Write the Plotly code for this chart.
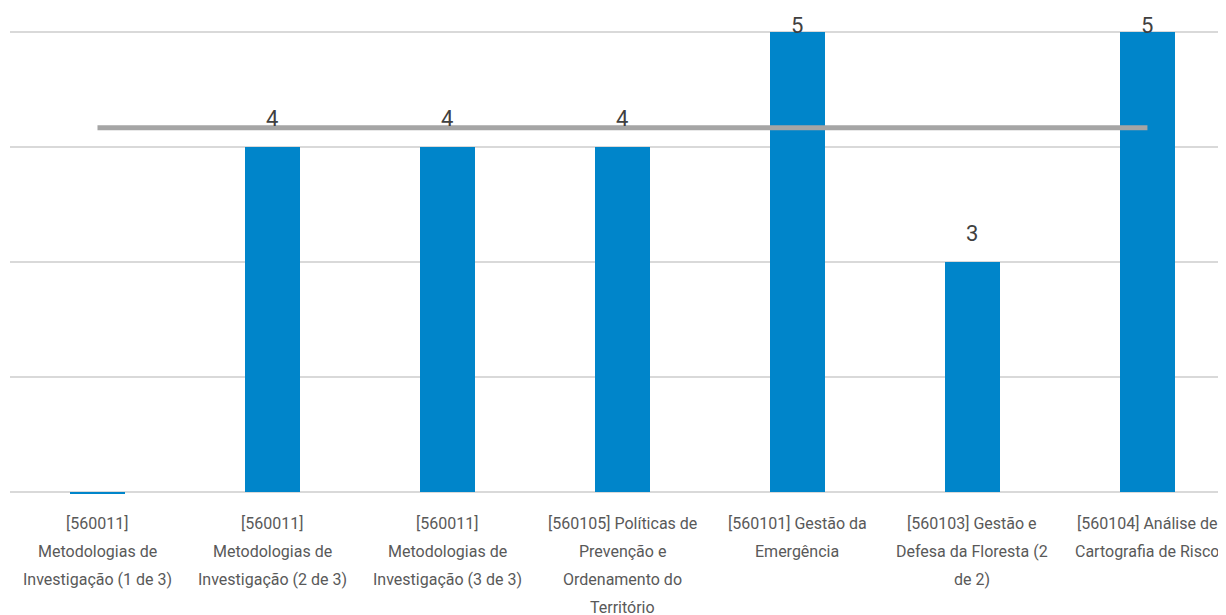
import plotly.graph_objects as go

categories = [
    "[560011]<br>Metodologias de<br>Investigação (1 de 3)",
    "[560011]<br>Metodologias de<br>Investigação (2 de 3)",
    "[560011]<br>Metodologias de<br>Investigação (3 de 3)",
    "[560105] Políticas de<br>Prevenção e<br>Ordenamento do<br>Território",
    "[560101] Gestão da<br>Emergência",
    "[560103] Gestão e<br>Defesa da Floresta (2<br>de 2)",
    "[560104] Análise de<br>Cartografia de Risco",
]
values = [0, 4, 4, 4, 5, 3, 5]
average = [4.17, 4.17, 4.17, 4.17, 4.17, 4.17, 4.17]
ytick_vals = [1, 2, 3, 4, 5]

FONT = "Roboto"
BAR_COLOR = "#0085CA"
x_idx = list(range(len(categories)))
y_min, y_max = 0.985, 5.01
top_value = max(values)

fig = go.Figure()
fig.add_trace(go.Bar(
    x=x_idx, y=[v - 1 for v in values], base=1,
    marker=dict(color=BAR_COLOR, line=dict(width=0)),
    width=0.314, hoverinfo="skip", showlegend=False,
))
fig.add_trace(go.Scatter(
    x=x_idx, y=average, mode="lines",
    line=dict(color="#A5A5A5", width=5), hoverinfo="skip", showlegend=False,
    cliponaxis=False,
))

annotations = []
for i, v in enumerate(values):
    if v <= 0:
        continue
    shift = 29 if v < top_value else 6.5
    annotations.append(dict(
        x=i, y=v, xref="x", yref="y", text=str(v), showarrow=False,
        yanchor="middle", yshift=shift,
        font=dict(family=FONT, size=22, color="#404040"),
    ))
for i, lab in enumerate(categories):
    for j, line in enumerate(lab.split("<br>")):
        annotations.append(dict(
            x=i, y=0, xref="x", yref="paper", text=line, showarrow=False,
            yanchor="middle", yshift=-(29 + 28 * j),
            font=dict(family=FONT, size=16, color="#595959"),
        ))

fig.update_layout(
    width=1226, height=615,
    margin=dict(l=2, r=8, t=23, b=129),
    plot_bgcolor="white", paper_bgcolor="white",
    font=dict(family=FONT),
    xaxis=dict(range=[-0.5, 6.449], showticklabels=False, showgrid=False,
               zeroline=False, fixedrange=True),
    yaxis=dict(range=[y_min, y_max], tickvals=ytick_vals, showticklabels=False,
               showgrid=True, gridcolor="#D9D9D9", gridwidth=1.5,
               zeroline=False, fixedrange=True),
    annotations=annotations,
    bargap=0,
)
fig.write_html("out.html", config={"displayModeBar": False})
